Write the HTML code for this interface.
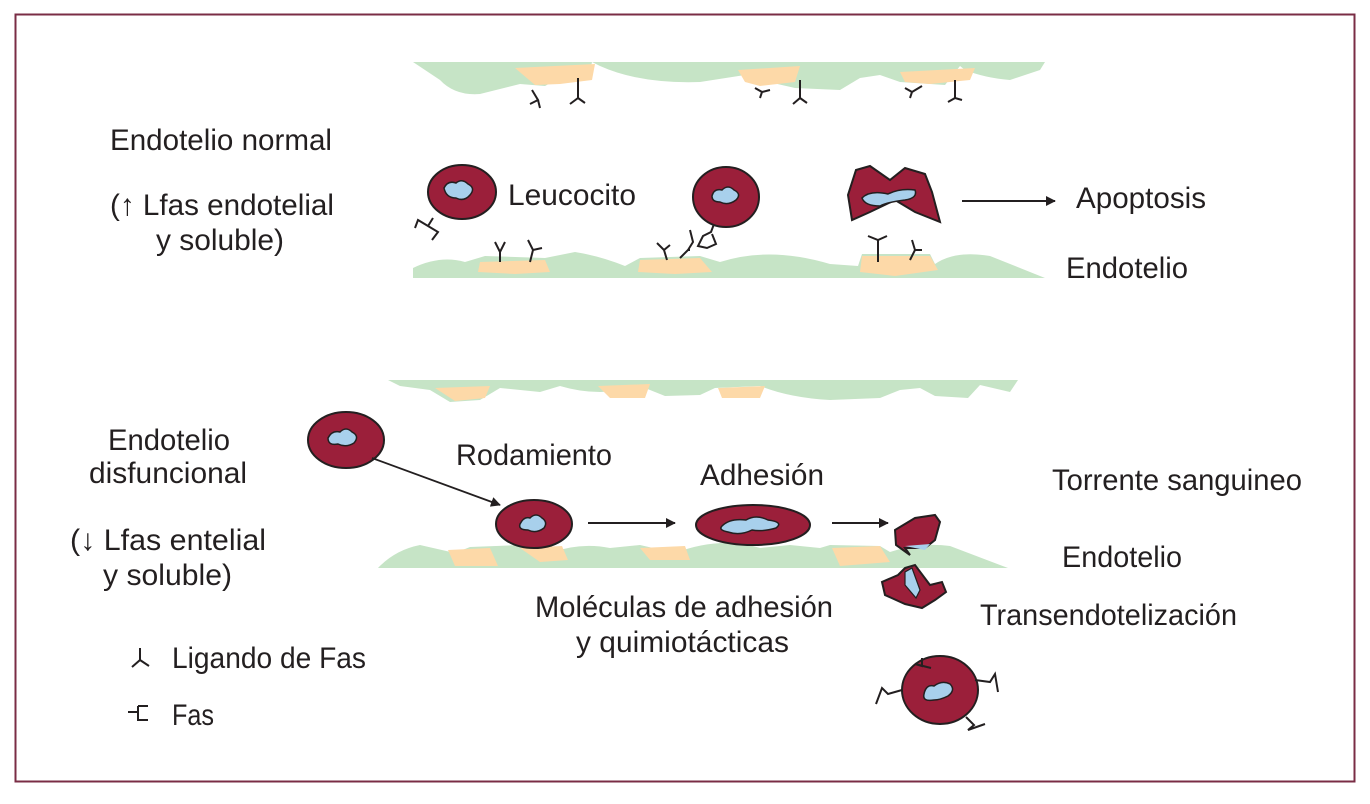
<!DOCTYPE html>
<html><head><meta charset="utf-8"><style>
html,body{margin:0;padding:0;background:#fff;}
svg{display:block;}
text{font-family:"Liberation Sans Narrow","Liberation Sans",sans-serif;font-size:30px;fill:#231f20;}
</style></head><body>
<svg width="1370" height="804" viewBox="0 0 1370 804" xmlns="http://www.w3.org/2000/svg">
<rect x="15.5" y="14.5" width="1339" height="767" fill="none" stroke="#7a2d45" stroke-width="2"/>
<defs>
<marker id="ah" markerWidth="10" markerHeight="10" refX="9" refY="5" orient="auto" markerUnits="userSpaceOnUse"><path d="M0,0 L18,5 L0,10z" fill="#231f20" transform="scale(0.55,1)"/></marker>
</defs>
<!-- Top vessel 1 -->
<g>
<path d="M413,62 L1045,62 L1040,70 L1010,80 Q985,78 965,70 L960,66 L945,85 L900,82 L880,75 L860,78 L840,90 L795,88 L760,80 L745,75 L700,82 Q640,84 600,66 L592,62 L590,72 L575,80 L560,78 L545,86 L520,84 L480,94 Q455,96 440,80 Z" fill="#c6e4c6"/>
<path d="M515,68 L595,64 L592,80 L560,84 L535,85 Z" fill="#fdd9a8"/>
<path d="M738,70 L800,66 L795,82 L760,86 L745,82 Z" fill="#fdd9a8"/>
<path d="M900,72 L975,68 L970,80 L930,84 L905,82 Z" fill="#fdd9a8"/>
<path d="M413,268 Q440,255 465,262 L485,256 L545,258 L575,252 Q600,256 625,266 L640,258 L700,256 L720,262 Q770,246 830,264 L858,266 L862,254 L930,254 L935,264 Q955,250 990,256 L1030,272 L1045,278 L413,278 Z" fill="#c6e4c6"/>
<path d="M480,262 L545,260 L550,272 L515,274 L478,272 Z" fill="#fdd9a8"/>
<path d="M640,260 L700,258 L712,272 L675,274 L638,272 Z" fill="#fdd9a8"/>
<path d="M862,256 L930,256 L938,270 L895,276 L860,272 Z" fill="#fdd9a8"/>
</g>
<g stroke="#231f20" stroke-width="2" fill="none">
<path d="M532,90 L538,100 L530,104 M538,100 L540,108"/>
<path d="M578,78 L578,98 L570,104 M578,98 L585,103"/>
<path d="M755,88 L762,92 L760,98 M762,92 L770,90"/>
<path d="M800,80 L800,98 L793,104 M800,98 L807,103"/>
<path d="M905,88 L912,92 L910,98 M912,92 L922,86"/>
<path d="M955,80 L955,98 L948,102 M955,98 L962,100"/>
<path d="M495,242 L500,252 L505,242 M500,252 L500,262 M528,240 L533,250 L542,248 M533,250 L530,262"/>
<path d="M657,243 L664,250 L670,245 M664,250 L667,260 M690,230 L693,242 L688,250 L680,258 M688,250 L690,250"/>
<path d="M868,236 L878,240 L887,236 M878,240 L878,262 M912,240 L915,250 L922,250 M915,250 L910,260"/>
<path d="M433,218 L428,226 L418,220 L415,228 M428,226 L438,232 L432,240"/>
<path d="M714,224 L711,232 L703,236 L698,246 L707,248 L716,244 L712,234"/>
</g>
<ellipse cx="462" cy="192" rx="34" ry="27" fill="#9b1f3a" stroke="#231f20" stroke-width="2"/>
<path d="M444,188 Q448,180 456,183 Q462,178 468,184 Q476,188 470,195 Q464,202 456,198 Q446,198 444,188z" fill="#a8d0ec" stroke="#231f20" stroke-width="1.5"/>
<ellipse cx="726" cy="197" rx="33" ry="30" fill="#9b1f3a" stroke="#231f20" stroke-width="2"/>
<path d="M712,196 Q714,188 722,190 Q728,184 734,190 Q742,194 736,200 Q728,206 720,202 Q712,202 712,196z" fill="#a8d0ec" stroke="#231f20" stroke-width="1.5"/>
<path d="M856,170 L870,166 L890,180 L905,168 L925,174 L932,192 L940,222 L915,212 L895,200 L870,212 L852,220 L848,195 Z" fill="#9b1f3a" stroke="#231f20" stroke-width="2"/>
<path d="M862,198 Q870,190 888,194 Q900,188 915,190 Q918,198 905,200 Q888,202 880,206 Q865,206 862,198z" fill="#a8d0ec" stroke="#231f20" stroke-width="1.5"/>
<line x1="962" y1="201" x2="1055" y2="201" stroke="#231f20" stroke-width="2" marker-end="url(#ah)"/>
<!-- Vessel 2 -->
<path d="M388,380 L1018,380 L1010,392 L980,385 L968,398 L935,396 L920,388 L900,390 L880,398 L830,400 Q790,398 760,386 L715,388 L700,395 L665,396 L640,386 Q600,398 560,386 L540,392 L500,388 L480,400 L450,402 L430,390 L400,386 Z" fill="#c6e4c6"/>
<path d="M435,388 L490,386 L485,398 L455,401 Z" fill="#fdd9a8"/>
<path d="M598,386 L650,384 L645,398 L610,398 Z" fill="#fdd9a8"/>
<path d="M718,388 L765,386 L760,398 L722,398 Z" fill="#fdd9a8"/>
<path d="M378,568 Q395,550 420,545 L455,553 L470,547 L520,545 L550,553 Q580,542 610,548 L640,545 L675,553 Q720,536 760,548 L790,545 L820,548 L830,545 L880,546 L890,552 Q920,542 950,546 L1000,565 L1008,568 Z" fill="#c6e4c6"/>
<path d="M448,550 L490,548 L498,566 L455,566 Z" fill="#fdd9a8"/>
<path d="M520,548 L562,546 L568,560 L540,562 Z" fill="#fdd9a8"/>
<path d="M640,548 L685,546 L690,560 L650,560 Z" fill="#fdd9a8"/>
<path d="M832,548 L880,546 L890,562 L840,566 Z" fill="#fdd9a8"/>
<ellipse cx="346" cy="440" rx="38" ry="28" fill="#9b1f3a" stroke="#231f20" stroke-width="2"/>
<path d="M328,438 Q332,430 340,432 Q346,426 352,432 Q360,436 354,443 Q346,448 338,444 Q328,446 328,438z" fill="#a8d0ec" stroke="#231f20" stroke-width="1.5"/>
<line x1="372" y1="458" x2="500" y2="505" stroke="#231f20" stroke-width="1.8" marker-end="url(#ah)"/>
<ellipse cx="534" cy="524" rx="38" ry="24" fill="#9b1f3a" stroke="#231f20" stroke-width="2"/>
<path d="M520,524 Q524,516 530,518 Q536,512 542,518 Q548,522 544,528 Q536,534 528,530 Q518,530 520,524z" fill="#a8d0ec" stroke="#231f20" stroke-width="1.5"/>
<line x1="588" y1="523" x2="675" y2="523" stroke="#231f20" stroke-width="2" marker-end="url(#ah)"/>
<ellipse cx="753" cy="525" rx="57" ry="20" fill="#9b1f3a" stroke="#231f20" stroke-width="2"/>
<path d="M722,526 Q730,518 746,520 Q756,514 768,520 Q784,522 776,528 Q762,532 752,530 Q740,536 728,532 Q718,530 722,526z" fill="#a8d0ec" stroke="#231f20" stroke-width="1.5"/>
<line x1="832" y1="523" x2="888" y2="523" stroke="#231f20" stroke-width="2" marker-end="url(#ah)"/>
<path d="M895,530 L915,518 L935,515 L940,522 L935,540 L925,548 L905,548 L910,555 L896,545 Z" fill="#9b1f3a" stroke="#231f20" stroke-width="2"/>
<path d="M905,546 L930,544 L925,550 Z" fill="#a8d0ec"/>
<path d="M905,568 L915,565 L930,585 L942,582 L946,592 L935,600 L922,608 L905,604 L885,595 L882,582 L898,575 Z" fill="#9b1f3a" stroke="#231f20" stroke-width="2"/>
<path d="M905,572 L912,568 L920,590 L916,598 L905,585 Z" fill="#a8d0ec" stroke="#231f20" stroke-width="1.2"/>
<ellipse cx="940" cy="690" rx="38" ry="34" fill="#9b1f3a" stroke="#231f20" stroke-width="2"/>
<path d="M924,694 Q926,684 934,686 Q942,680 950,684 Q956,690 948,696 Q940,700 934,700 Q922,702 924,694z" fill="#a8d0ec" stroke="#231f20" stroke-width="1.5"/>
<g stroke="#231f20" stroke-width="2" fill="none">
<path d="M922,658 L922,666 L915,664 L931,668"/>
<path d="M902,690 L888,694 L882,688 L876,704"/>
<path d="M975,680 L990,682 L995,674 L998,692"/>
<path d="M966,717 L974,725 L968,730 L985,724"/>
<path d="M140,648 L140,660 L132,667 M140,660 L149,666"/>
<path d="M128,712 L138,712 M138,706 L138,720 L148,720 M138,706 L148,706"/>
</g>
<text x="110" y="150" textLength="222" lengthAdjust="spacingAndGlyphs">Endotelio normal</text>
<text x="110" y="215" textLength="224" lengthAdjust="spacingAndGlyphs">(↑ Lfas endotelial</text>
<text x="156" y="250" textLength="128" lengthAdjust="spacingAndGlyphs">y soluble)</text>
<text x="508" y="205" textLength="128" lengthAdjust="spacingAndGlyphs">Leucocito</text>
<text x="1076" y="208" textLength="130" lengthAdjust="spacingAndGlyphs">Apoptosis</text>
<text x="1066" y="278" textLength="122" lengthAdjust="spacingAndGlyphs">Endotelio</text>
<text x="108" y="450" textLength="122" lengthAdjust="spacingAndGlyphs">Endotelio</text>
<text x="89" y="483" textLength="158" lengthAdjust="spacingAndGlyphs">disfuncional</text>
<text x="70" y="550" textLength="196" lengthAdjust="spacingAndGlyphs">(↓ Lfas entelial</text>
<text x="103" y="585" textLength="129" lengthAdjust="spacingAndGlyphs">y soluble)</text>
<text x="172" y="668" textLength="194" lengthAdjust="spacingAndGlyphs">Ligando de Fas</text>
<text x="172" y="725" textLength="42" lengthAdjust="spacingAndGlyphs">Fas</text>
<text x="456" y="465" textLength="156" lengthAdjust="spacingAndGlyphs">Rodamiento</text>
<text x="700" y="485" textLength="124" lengthAdjust="spacingAndGlyphs">Adhesión</text>
<text x="1052" y="490" textLength="250" lengthAdjust="spacingAndGlyphs">Torrente sanguineo</text>
<text x="1062" y="567" textLength="120" lengthAdjust="spacingAndGlyphs">Endotelio</text>
<text x="535" y="617" textLength="298" lengthAdjust="spacingAndGlyphs">Moléculas de adhesión</text>
<text x="576" y="652" textLength="213" lengthAdjust="spacingAndGlyphs">y quimiotácticas</text>
<text x="980" y="625" textLength="257" lengthAdjust="spacingAndGlyphs">Transendotelización</text>
</svg>
</body></html>
